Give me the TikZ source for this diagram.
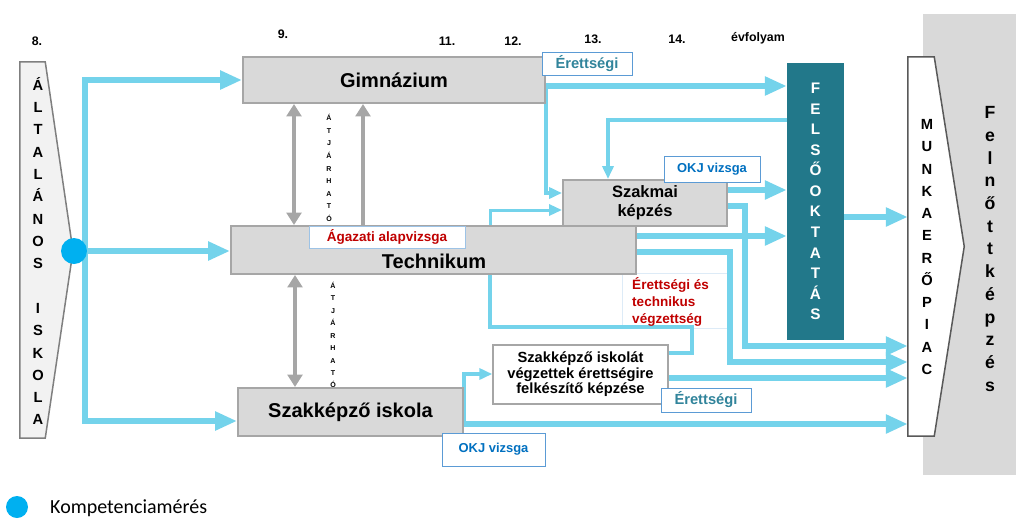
\documentclass[tikz,border=0pt]{standalone}
\usepackage{fontspec}
\setmainfont{Liberation Sans}
\newfontfamily\calfont{Carlito}
\usetikzlibrary{arrows.meta,backgrounds,calc}
\newlength{\pxu}\setlength{\pxu}{0.85pt}
\definecolor{cBoxFill}{HTML}{D9D9D9}
\definecolor{cBoxDraw}{HTML}{A6A6A6}
\definecolor{cGrey}{HTML}{A6A6A6}
\definecolor{cLB}{HTML}{74D3EB}
\definecolor{cTeal}{HTML}{22788A}
\definecolor{cDot}{HTML}{00B0F0}
\definecolor{cRed}{HTML}{C00000}
\definecolor{cOKJ}{HTML}{0070C0}
\definecolor{cEtt}{HTML}{31849B}
\definecolor{cLbl}{HTML}{5B9BD5}
\definecolor{cFaint}{HTML}{DDEBF7}
\definecolor{cAltFill}{HTML}{F2F2F2}
\definecolor{cAltDraw}{HTML}{7F7F7F}
\definecolor{cMunDraw}{HTML}{595959}
\begin{document}
\begin{tikzpicture}[x=0.85pt,y=-0.85pt,
  gbox/.style={draw=cBoxDraw, line width=2\pxu, fill=cBoxFill, inner sep=0,
    font=\bfseries\fontsize{17}{20}\selectfont},
  lbl/.style={draw=cLbl, line width=1\pxu, fill=white, inner sep=0},
  conn/.style={draw=cLB, line width=5.5\pxu},
  conna/.style={conn, arrows={-Triangle[length=18.7pt,width=15.3pt]}},
  connaa/.style={conn, arrows={Triangle[length=18.7pt,width=15.3pt]-Triangle[length=18.7pt,width=15.3pt]}},
  thinc/.style={draw=cLB, line width=3.5\pxu},
  thina/.style={thinc, arrows={-Triangle[length=11pt,width=9.4pt]}},
  garrow/.style={draw=cGrey, line width=4.5\pxu, arrows={-Triangle[length=10.5pt,width=12.5pt]}},
  gdbl/.style={draw=cGrey, line width=4.5\pxu, arrows={Triangle[length=10.5pt,width=12.5pt]-Triangle[length=10.5pt,width=12.5pt]}},
  stack/.style={align=center, inner sep=0},
  yr/.style={font=\bfseries\fontsize{10.5}{12}\selectfont, inner sep=0}
]
\useasboundingbox (0,0) rectangle (1016,518);

% ---- nodes ----
\node[gbox, minimum width=302\pxu, minimum height=46\pxu] (gim) at (394,80) {Gimnázium};
\node[gbox, minimum width=405\pxu, minimum height=48\pxu] (tech) at (433.5,250) {};
\node[gbox, minimum width=225\pxu, minimum height=48\pxu] (szi) at (350.5,412) {Szakképző iskola};
\node[gbox, font=\bfseries\fontsize{14}{16}\selectfont, align=center,
  minimum width=164\pxu, minimum height=46\pxu] (szm) at (645,203) {Szakmai\\képzés};
\node[draw=cBoxDraw, line width=1.5\pxu, fill=white, inner sep=0, align=center,
  font=\bfseries\fontsize{12.5}{13.2}\selectfont,
  minimum width=175\pxu, minimum height=59\pxu] (szb) at (580.5,374.5)
  {Szakképző iskolát\\végzettek érettségire\\felkészítő képzése};
\node[fill=cTeal, inner sep=0, minimum width=57\pxu, minimum height=277\pxu,
  text=white, align=center, font=\bfseries\fontsize{13}{17.5}\selectfont] (fel) at (815.5,201.5)
  {F\\E\\L\\S\\Ő\\O\\K\\T\\A\\T\\Á\\S};

% munkaeropiac
\node[minimum width=26\pxu, minimum height=379\pxu, inner sep=0] (mun) at (921,246.5) {};
% altalanos iskola
\node[minimum width=25\pxu, minimum height=376\pxu, inner sep=0] (alt) at (32.5,250) {};

\begin{scope}[on background layer]
  \fill[cBoxFill] (923,14) rectangle (1016,475);
  \draw[cFaint, line width=1\pxu] (622,273) rectangle (727,328);
  % left distribution
  \draw[connaa] (gim.west) -- (85,80) -- (85,421) -- (szi.west |- 0,421);
  \draw[conna] (alt.east |- 0,251) -- (tech.west |- 0,251);
  % gimnazium outputs
  \draw[conna] (gim.east |- 0,86) -- (fel.west |- 0,86);
  \draw[thina] (gim.east |- 0,86) -- (gim.east |- 0,193) -- (szm.west |- 0,193);
  % felsooktatas back to szakmai
  \draw[thina] (fel.west |- 0,120) -| (szm.north -| 608,0);
  % szakmai outputs
  \draw[conna] (szm.east |- 0,190) -- (fel.west |- 0,190);
  \draw[conna] (szm.east |- 0,206) -| (745,346) -- (mun.west |- 0,346);
  % technikum
  \draw[thina, line width=3\pxu] (tech.north -| 490,0) |- (szm.west |- 0,210);
  \draw[conna] (tech.east |- 0,236) -- (fel.west |- 0,236);
  \draw[conna] (tech.east |- 0,252) -| (730,362) -- (mun.west |- 0,362);
  \draw[conn, line width=4\pxu] (tech.south -| 490,0) |- (692,327) |- (szb.east |- 0,353);
  % szakkepzo box
  \draw[conna] (szb.east |- 0,378) -- (mun.west |- 0,378);
  % szakkepzo iskola
  \draw[thina] (szi.east |- 0,424) |- (szb.west |- 0,374);
  \draw[conna] (szi.east |- 0,424) -- (mun.west |- 0,424);
  % felsooktatas to munkaeropiac
  \draw[conna] (fel.east |- 0,217) -- (mun.west |- 0,217);
\end{scope}

% shapes with polygons
\draw[draw=cAltDraw, line width=1.5\pxu, fill=cAltFill]
  (alt.north west) -- (alt.north east) -- (73,251) -- (alt.south east) -- (alt.south west) -- cycle;
\node[stack, font=\bfseries\fontsize{12.5}{18.98}\selectfont] (alttxt) at (38,251)
  {Á\\L\\T\\A\\L\\Á\\N\\O\\S\\[18.98pt]I\\S\\K\\O\\L\\A};
\node[circle, fill=cDot, minimum size=26\pxu, inner sep=0] (dot) at (74,251) {};

\draw[draw=cMunDraw, line width=1.5\pxu, fill=white]
  (mun.north west) -- (mun.north east) -- ($(mun.east)+(30,0)$) -- (mun.south east) -- (mun.south west) -- cycle;
\node[stack, font=\bfseries\fontsize{12.5}{18.9}\selectfont] (muntxt) at (927,247)
  {M\\U\\N\\K\\A\\E\\R\\Ő\\P\\I\\A\\C};
\node[stack, font=\bfseries\fontsize{15}{19.3}\selectfont] (felnott) at (990,249)
  {F\\e\\l\\n\\ő\\t\\t\\k\\é\\p\\z\\é\\s};

% technikum text and labels
\node[font=\bfseries\fontsize{17}{20}\selectfont, inner sep=0] (techtxt) at (434,261) {Technikum};
\node[lbl, draw=cLbl!60, minimum width=156\pxu, minimum height=22\pxu, text=cRed,
  font=\bfseries\fontsize{11.5}{13}\selectfont] (aga) at (387,237) {Ágazati alapvizsga};
\node[lbl, minimum width=90\pxu, minimum height=23\pxu, text=cEtt,
  font=\bfseries\fontsize{12.5}{14}\selectfont] (er1) at (587,63.5) {Érettségi};
\node[lbl, minimum width=96\pxu, minimum height=26\pxu, text=cOKJ,
  font=\bfseries\fontsize{11}{13}\selectfont] (okj1) at (712,169) {OKJ vizsga};
\node[lbl, minimum width=90\pxu, minimum height=24\pxu, text=cEtt,
  font=\bfseries\fontsize{12.5}{14}\selectfont] (er2) at (706,400) {Érettségi};
\node[lbl, minimum width=103\pxu, minimum height=33\pxu, text=cOKJ,
  font=\bfseries\fontsize{11}{13}\selectfont] (okj2) at (493.5,449.5) {OKJ vizsga};
\node[anchor=west, align=left, inner sep=0, text=cRed,
  font=\bfseries\fontsize{11.5}{14.5}\selectfont] (evtxt) at (632,302)
  {Érettségi és\\technikus\\végzettség};

% grey transfer arrows
\draw[gdbl] (gim.south -| 294,0) -- (tech.north -| 294,0);
\draw[garrow] (tech.north -| 363,0) -- (gim.south -| 363,0);
\draw[gdbl] (tech.south -| 295,0) -- (szi.north -| 295,0);
\node[stack, font=\bfseries\fontsize{6}{10.7}\selectfont] (atj1) at (329,168)
  {Á\\T\\J\\Á\\R\\H\\A\\T\\Ó};
\node[stack, font=\bfseries\fontsize{6}{10.6}\selectfont] (atj2) at (333,335)
  {Á\\T\\J\\Á\\R\\H\\A\\T\\Ó};

% year labels
\node[yr] (n8) at (37,41) {8.};
\node[yr] (n9) at (283,34) {9.};
\node[yr] (n11) at (447,41) {11.};
\node[yr] (n12) at (513,41) {12.};
\node[yr] (n13) at (593,39) {13.};
\node[yr] (n14) at (677,39) {14.};
\node[yr] (nev) at (758,38) {évfolyam};

% legend
\node[circle, fill=cDot, minimum size=22\pxu, inner sep=0] (legdot) at (17,507) {};
\node[anchor=west, inner sep=0, font=\calfont\fontsize{17}{20}\selectfont] (legtxt) at (50,508) {Kompetenciamérés};
\end{tikzpicture}
\end{document}
